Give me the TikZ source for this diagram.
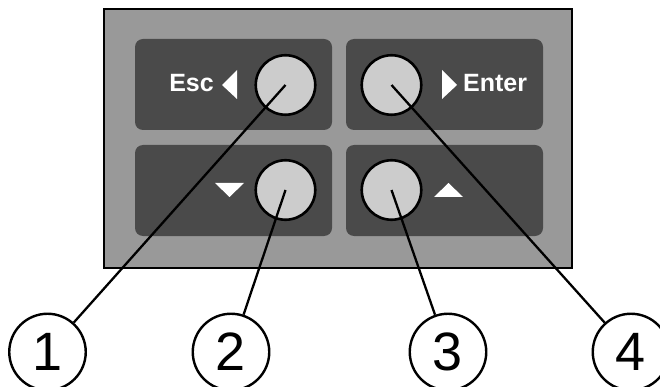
\documentclass[tikz,border=0pt]{standalone}
\usepackage{fontspec}
\setmainfont{Liberation Sans}
\usetikzlibrary{positioning}
\definecolor{panelgray}{HTML}{999999}
\definecolor{keygray}{HTML}{4A4A4A}
\definecolor{btngray}{HTML}{CCCCCC}

\begin{document}
\begin{tikzpicture}[x=1pt, y=-1pt,
    keybox/.style={fill=keygray, rounded corners=8pt},
    button/.style={circle, draw, line width=2.6pt, fill=btngray, minimum size=59.5pt, inner sep=0pt},
    callout/.style={circle, draw, line width=2.4pt, minimum size=76.5pt, inner sep=0pt, font=\fontsize{54}{54}\selectfont},
    keylabel/.style={text=white, inner sep=0pt, font=\bfseries\fontsize{25}{25}\selectfont},
    lead/.style={line width=2.3pt}]
    \useasboundingbox (0,0) rectangle (660,387);

    % Panel
    \draw[line width=2.5pt, fill=panelgray] (104,9) rectangle (572,268);

    % Keys
    \foreach \x/\y in {135/39, 346/39, 135/145, 346/145} {
        \fill[keybox] (\x,\y) rectangle ++(197,91);
    }

    % Buttons
    \foreach \n/\x/\y in {1/285.5/85, 4/391.5/85, 2/285.5/190, 3/391.5/190} {
        \node[button] (b\n) at (\x,\y) {};
    }

    % Key labels and arrows
    \node[keylabel, anchor=base east] (esc) at (214,92) {Esc};
    \node[keylabel, anchor=base west] (enter) at (463,92) {Enter};
    \fill[white] (222,85) -- (237,70) -- (237,99) -- cycle;
    \fill[white] (457,85) -- (442,70) -- (442,99) -- cycle;
    \fill[white] (215,183) -- (244,183) -- (229.5,197) -- cycle;
    \fill[white] (434,197) -- (463,197) -- (448.5,183) -- cycle;

    % Callouts
    \foreach \n/\x in {1/47.5, 2/231, 3/448, 4/631} {
        \node[callout] (c\n) at (\x,352) {\n};
        \draw[lead] (b\n.center) -- (c\n);
    }
\end{tikzpicture}
\end{document}
